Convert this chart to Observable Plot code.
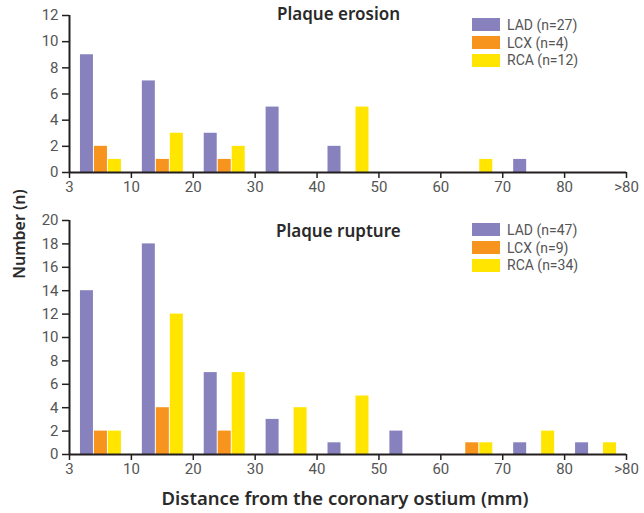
<!DOCTYPE html>
<html>
<head>
<meta charset="utf-8">
<script src="https://cdn.jsdelivr.net/npm/d3@7"></script>
<script src="https://cdn.jsdelivr.net/npm/@observablehq/plot@0.6"></script>
<style>
  html, body { margin: 0; padding: 0; background: #fff; }
  #chart { position: relative; width: 644px; height: 513px; font-family: Roboto, "Noto Sans", sans-serif; }
  .panel { position: absolute; left: 0; }
  .ptitle { position: absolute; font-family: "Noto Sans", sans-serif; font-weight: 600; font-size: 17px; color: #2a2a2a; white-space: nowrap; }
  .legend { position: absolute; left: 472px; font-size: 14px; color: #555; }
  .legend .row { display: flex; align-items: center; height: 17.7px; }
  .legend .sw { width: 28px; height: 13px; margin-right: 7px; }
  .ytitle { position: absolute; font-family: "Noto Sans", sans-serif; font-weight: 600; font-size: 16px; color: #2a2a2a; transform: rotate(-90deg); transform-origin: center; white-space: nowrap; }
  .xtitle { position: absolute; font-family: "Noto Sans", sans-serif; font-weight: 600; font-size: 18.5px; color: #2a2a2a; white-space: nowrap; }
</style>
</head>
<body>
<div id="chart"></div>
<script>
const bins = ["3-10", "10-20", "20-30", "30-40", "40-50", "50-60", "60-70", "70-80", ">80"];
const xTickLabels = ["3", "10", "20", "30", "40", "50", "60", "70", "80", ">80"];
const series = ["LAD", "LCX", "RCA"];
const colors = ["#8782bd", "#f7941d", "#ffe500"];

const erosionLAD = [9, 7, 3, 5, 2, 0, 0, 1, 0];
const erosionLCX = [2, 1, 1, 0, 0, 0, 0, 0, 0];
const erosionRCA = [1, 3, 2, 0, 5, 0, 1, 0, 0];
const erosionN = [27, 4, 12];

const ruptureLAD = [14, 18, 7, 3, 1, 2, 0, 1, 1];
const ruptureLCX = [2, 4, 2, 0, 0, 0, 1, 0, 0];
const ruptureRCA = [2, 12, 7, 4, 5, 0, 1, 2, 1];
const ruptureN = [47, 9, 34];

function toRows(arrs) {
  const rows = [];
  arrs.forEach((vals, s) => vals.forEach((v, i) => { if (v > 0) rows.push({bin: i, s, value: v}); }));
  return rows;
}

// layout of grouped bars within each bin (bin units)
const barStart = 0.177, barStep = 0.226, barWidth = 0.21;

function panel({rows, yMax, height}) {
  return Plot.plot({
    width: 644,
    height,
    marginLeft: 69,
    marginRight: 18,
    marginTop: 15,
    marginBottom: 28,
    style: {fontFamily: "Roboto, sans-serif", fontSize: "14px", color: "#555", background: "#fff"},
    x: {type: "linear", domain: [0, bins.length], axis: null},
    y: {domain: [0, yMax], axis: null},
    marks: [
      Plot.rectY(rows, {
        x1: d => d.bin + barStart + d.s * barStep,
        x2: d => d.bin + barStart + d.s * barStep + barWidth,
        y1: 0,
        y2: "value",
        fill: d => colors[d.s]
      }),
      Plot.axisY({ticks: d3.range(0, yMax + 1, 2), tickSize: 7, tickPadding: 4, stroke: "#231f20", strokeWidth: 1.5, fill: "#555", label: null, fontSize: 15}),
      Plot.axisX({ticks: d3.range(0, bins.length + 1), tickFormat: i => xTickLabels[i], tickSize: 6, tickPadding: 3, stroke: "#231f20", strokeWidth: 1.5, fill: "#555", label: null, fontSize: 15}),
      Plot.ruleY([0], {stroke: "#231f20", strokeWidth: 2}),
      Plot.ruleX([0], {stroke: "#231f20", strokeWidth: 2})
    ]
  });
}

const chart = document.getElementById("chart");

function addPanel(top, rows, yMax, height, title, titleLeft, titleTop, n, legendTop) {
  const svg = panel({rows, yMax, height});
  svg.classList.add("panel");
  svg.style.top = top + "px";
  chart.appendChild(svg);
  const t = document.createElement("div");
  t.className = "ptitle";
  t.textContent = title;
  t.style.left = titleLeft + "px";
  t.style.top = titleTop + "px";
  chart.appendChild(t);
  const lg = document.createElement("div");
  lg.className = "legend";
  lg.style.top = legendTop + "px";
  series.forEach((s, i) => {
    const r = document.createElement("div");
    r.className = "row";
    const sw = document.createElement("div");
    sw.className = "sw";
    sw.style.background = colors[i];
    const tx = document.createElement("span");
    tx.textContent = `${s} (n=${n[i]})`;
    r.appendChild(sw); r.appendChild(tx);
    lg.appendChild(r);
  });
  chart.appendChild(lg);
}

addPanel(0, toRows([erosionLAD, erosionLCX, erosionRCA]), 12, 200, "Plaque erosion", 277, 2, erosionN, 16);
addPanel(205, toRows([ruptureLAD, ruptureLCX, ruptureRCA]), 20, 277, "Plaque rupture", 276, 219, ruptureN, 221);

const yt = document.createElement("div");
yt.className = "ytitle";
yt.textContent = "Number (n)";
chart.appendChild(yt);
const w = yt.offsetWidth, h = yt.offsetHeight;
yt.style.left = (18 - w / 2) + "px";
yt.style.top = (234 - h / 2) + "px";

const xt = document.createElement("div");
xt.className = "xtitle";
xt.textContent = "Distance from the coronary ostium (mm)";
chart.appendChild(xt);
xt.style.left = (345 - xt.offsetWidth / 2) + "px";
xt.style.top = (497 - xt.offsetHeight / 2) + "px";
</script>
</body>
</html>
